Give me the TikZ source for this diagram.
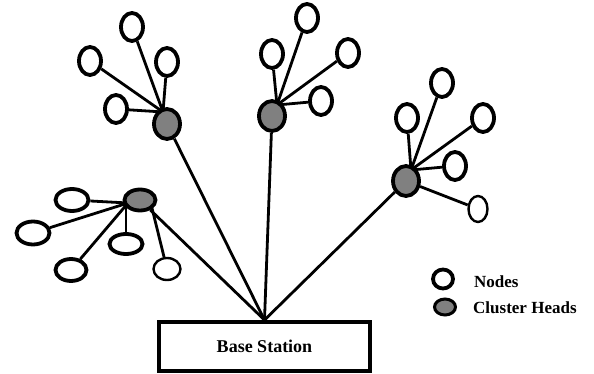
\documentclass[tikz,border=0pt]{standalone}
\usepackage{fontspec}
\setmainfont{Liberation Serif}
\usetikzlibrary{shapes.geometric, backgrounds}
\begin{document}
\begin{tikzpicture}[x=1pt, y=-1pt,
  nd/.style={ellipse, draw=black, line width=3.8pt, fill=white, minimum width=22pt, minimum height=28pt, inner sep=0pt},
  ch/.style={nd, fill=gray, minimum width=26pt, minimum height=30pt},
  thin nd/.style={nd, line width=2.4pt},
  link/.style={line width=2.8pt},
  lbl/.style={font=\bfseries\fontsize{17}{20}\selectfont, inner sep=0pt}]
\useasboundingbox (0,0) rectangle (594,374);

\node[draw=black, fill=white, line width=4pt, minimum width=211pt, minimum height=49pt, lbl, font=\bfseries\fontsize{18}{21}\selectfont] (bs) at (264.5,346.5) {Base Station};

% cluster heads
\node[ch] (A) at (167,124) {};
\node[ch] (B) at (272,116) {};
\node[ch] (C) at (406,181) {};
\node[ch, minimum width=31pt, minimum height=21pt] (D) at (140,200) {};
\coordinate (hA) at (163,112);
\coordinate (hB) at (277,105);
\coordinate (hC) at (411,170);
\coordinate (hD) at (128,203);
\coordinate (hD2) at (150,200);

% nodes
\node[nd] (a1) at (132,27) {};
\node[nd] (a2) at (90,61) {};
\node[nd] (a3) at (167,62) {};
\node[nd] (a4) at (116,109) {};

\node[nd] (b1) at (272,54) {};
\node[nd] (b2) at (307,18) {};
\node[nd] (b3) at (348,53) {};
\node[nd] (b4) at (321,101) {};

\node[nd] (c1) at (407,118) {};
\node[nd] (c2) at (442,83) {};
\node[nd] (c3) at (483,118) {};
\node[nd] (c4) at (455,166) {};
\node[thin nd, minimum width=19pt, minimum height=26pt] (c5) at (478,209) {};

\node[nd, minimum width=33pt, minimum height=22pt] (d1) at (72,200) {};
\node[nd, minimum width=33pt, minimum height=23pt] (d2) at (33,233) {};
\node[nd, minimum width=33pt, minimum height=20pt] (d3) at (126,244) {};
\node[nd, minimum width=31pt, minimum height=22pt] (d4) at (71,270) {};
\node[thin nd, minimum width=27pt, minimum height=22pt] (d5) at (167,269) {};

% links
\begin{scope}[on background layer]
\foreach \n in {a1,a2,a3,a4} \draw[link] (hA) -- (\n);
\foreach \n in {b1,b2,b3,b4} \draw[link] (hB) -- (\n);
\foreach \n in {c1,c2,c3,c4} \draw[link] (hC) -- (\n);
\draw[link] (C) -- (c5);
\foreach \n in {d1,d2,d4} \draw[link] (hD) -- (\n);
\draw[link] (d3) -- (d3 |- D);
\draw[link] (hD2) -- (d5);
\foreach \h in {A,B,C,D} \draw[link] (\h) -- (bs.north);
\end{scope}

% legend
\node[nd, minimum width=20pt, minimum height=19pt] (lgn) at (443,279) {};
\node[ch, line width=3pt, minimum width=21pt, minimum height=16pt] (lgc) at (445,307) {};
\node[lbl, anchor=base west] (tn) at (474,287) {Nodes};
\node[lbl, anchor=base west] (tc) at (473,313) {Cluster Heads};
\end{tikzpicture}
\end{document}
